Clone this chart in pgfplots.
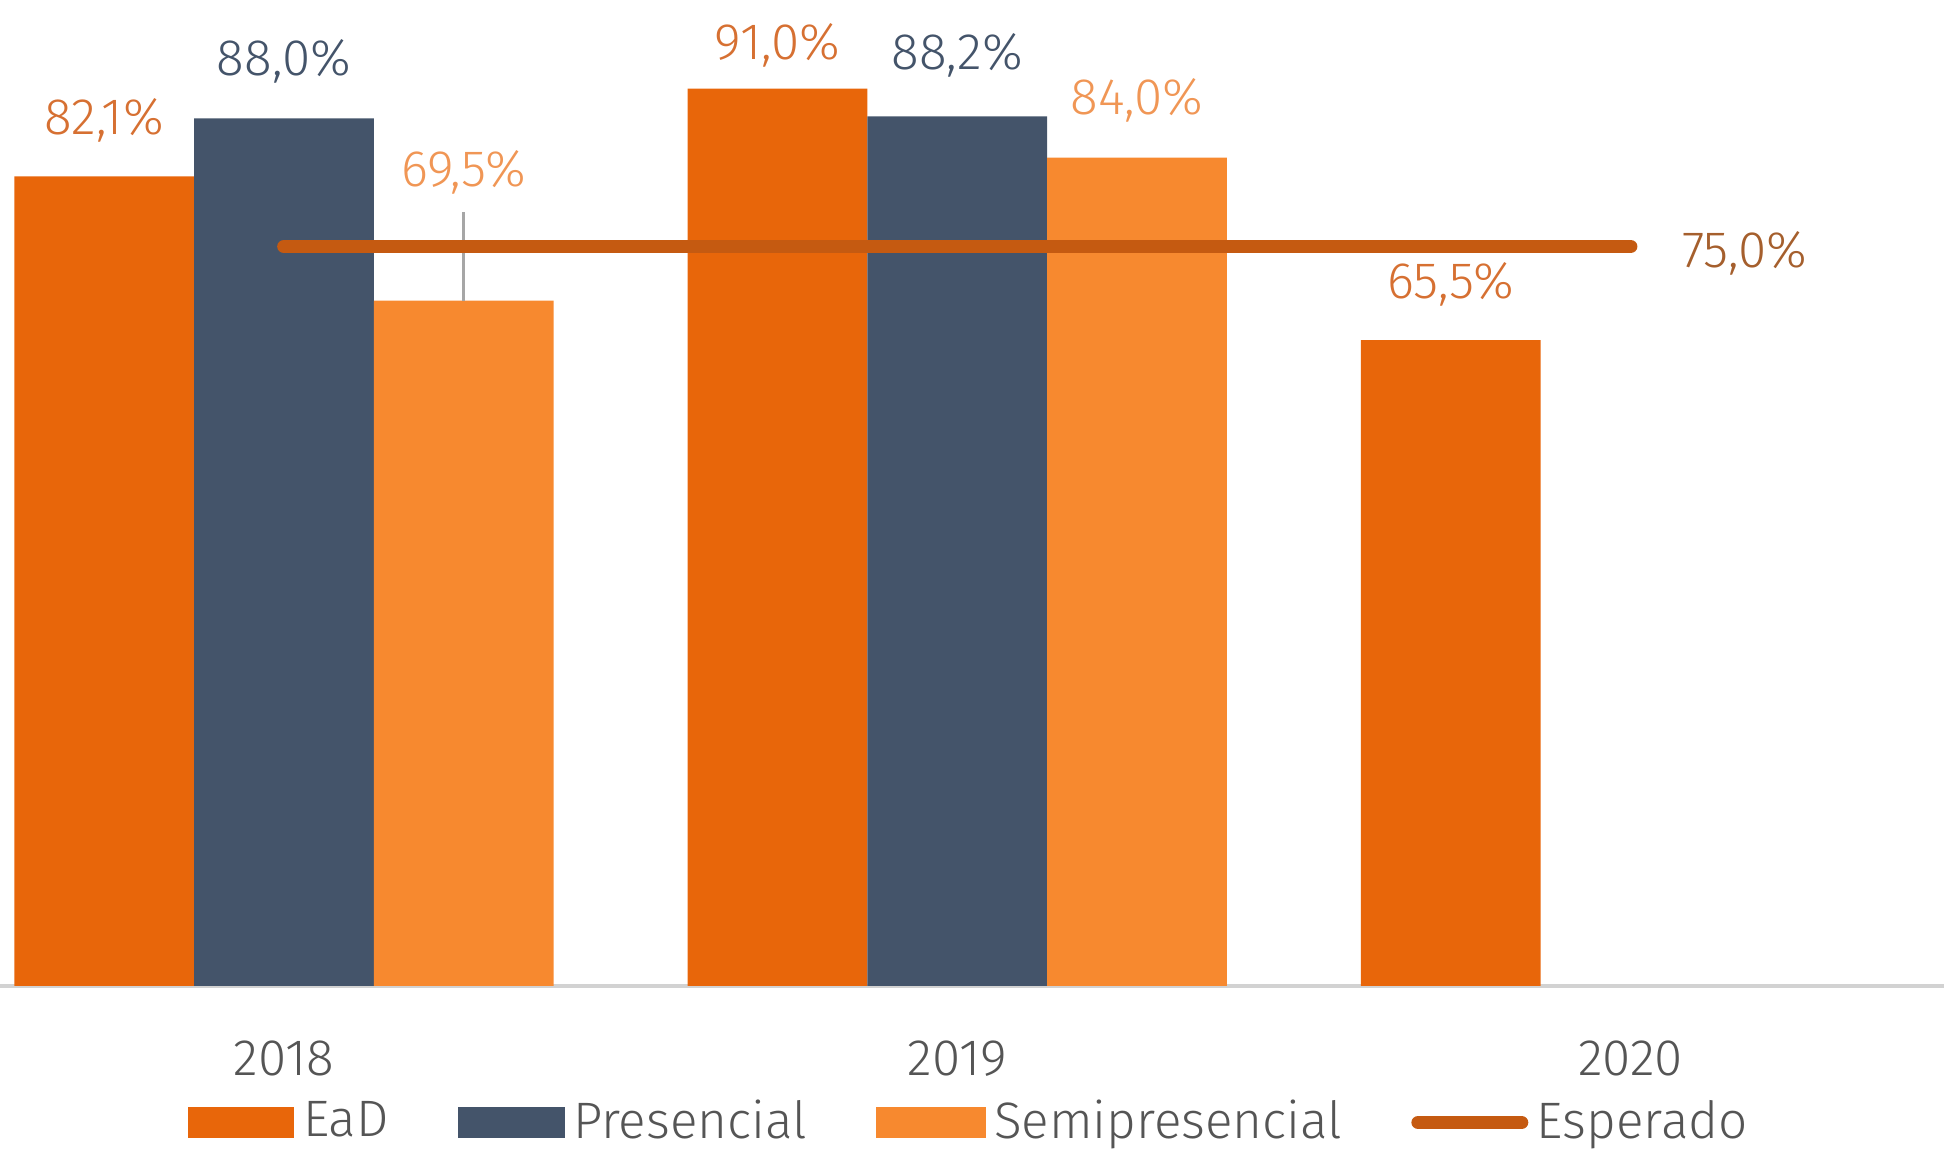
\documentclass[border=0pt]{standalone}
\usepackage{fontspec}
\setmainfont{Fira Sans Light}
\usepackage{pgfplots}
\pgfplotsset{compat=1.18}
\usepackage{pgfplotstable}

\definecolor{ead}{RGB}{232,102,10}
\definecolor{pres}{RGB}{68,84,106}
\definecolor{semi}{RGB}{247,137,47}
\definecolor{esp}{RGB}{197,90,17}
\definecolor{eadtxt}{RGB}{214,112,50}
\definecolor{semitxt}{RGB}{240,150,85}
\definecolor{esptxt}{RGB}{165,95,45}
\definecolor{ticktxt}{RGB}{85,85,85}

% x = group (0=2018, 1=2019, 2=2020), dy = label offset above bar top (pt)
\pgfplotstableread{
x y dy
0 82.1 13.1
1 91.0 10.2
2 65.5 13.0
}\ead
\pgfplotstableread{
x y dy
0 88.0 13.4
1 88.2 14.3
}\pres
\pgfplotstableread{
x y dy
0 69.5 30.0
1 84.0 13.4
}\semi

% bar shift 0.267 units = 1.4796cm with the axis size below
\pgfplotsset{
  barlbl/.style 2 args={
    visualization depends on={\thisrow{dy} \as \dy},
    nodes near coords={\pgfmathprintnumber{\pgfplotspointmeta}\%},
    every node near coord/.append style={anchor=center, yshift=\dy pt,
      xshift=#2, font=\fontsize{12}{14}\selectfont, text=#1},
  },
}

\begin{document}
\begin{tikzpicture}
\begin{axis}[
  scale only axis,
  width=16cm, height=8.115cm,
  ymin=0, ymax=100,
  xmin=-0.4218, xmax=2.4655,
  bar width=0.267,
  hide y axis,
  axis x line*=bottom,
  axis line style={draw=gray!35, line width=0.8pt},
  xtick={0,1,2},
  xticklabels={2018,2019,2020},
  major tick length=0pt,
  xticklabel style={font=\fontsize{12}{14}\selectfont, text=ticktxt, yshift=-0.33cm},
  clip=false,
  /pgf/number format/.cd, fixed, fixed zerofill, precision=1, use comma, assume math mode=true,
  /pgfplots/.cd,
  legend columns=4,
  legend style={draw=none, fill=none, at={(0.5,-0.1385)}, anchor=center,
    font=\fontsize{12}{14}\selectfont, text=ticktxt,
    /tikz/every even column/.append style={column sep=0.5cm},
    /tikz/inner xsep=1pt},
]
\coordinate (bl) at (rel axis cs:0,0);
\coordinate (tr) at (rel axis cs:1,1);

\addplot[ybar, bar shift=-0.267, fill=ead, draw=none, barlbl={eadtxt}{-1.4796cm},
  legend image code/.code={\fill[ead] (0cm,-0.125cm) rectangle (0.88cm,0.125cm);}]
  table[x=x, y=y] {\ead};
\addlegendentry{EaD}

\addplot[ybar, bar shift=0, fill=pres, draw=none, barlbl={pres}{0cm},
  legend image code/.code={\fill[pres] (0cm,-0.125cm) rectangle (0.88cm,0.125cm);}]
  table[x=x, y=y] {\pres};
\addlegendentry{Presencial}

\addplot[ybar, bar shift=0.267, fill=semi, draw=none, barlbl={semitxt}{1.4796cm},
  legend image code/.code={\fill[semi] (0cm,-0.125cm) rectangle (0.9cm,0.125cm);}]
  table[x=x, y=y] {\semi};
\addlegendentry{Semipresencial}

% leader line for 69,5%
\draw[gray!70, line width=0.6pt] (axis cs:0.267,69.5) -- (axis cs:0.267,78.5);

\addplot[esp, line width=3.2pt, line cap=round, no marks,
  legend image code/.code={\draw[esp, line width=3.2pt, line cap=round] (-0.05cm,0) -- (0.8cm,0);}]
  coordinates {(0,75) (2,75)};
\addlegendentry{Esperado}

\node[anchor=west, text=esptxt, font=\fontsize{12}{14}\selectfont, xshift=0.3cm, yshift=-0.06cm]
  at (axis cs:2,75) {75,0\%};
\end{axis}
\pgfresetboundingbox
\useasboundingbox (bl) ++(0,-1.366cm) rectangle (tr);
\end{tikzpicture}
\end{document}
